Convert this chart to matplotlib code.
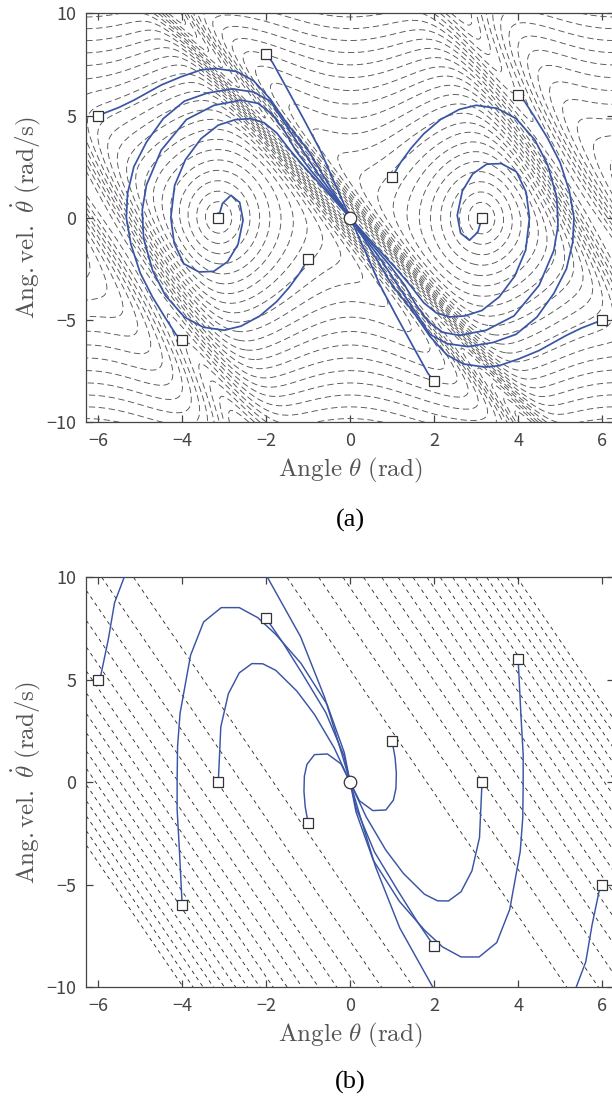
import numpy as np
import matplotlib
matplotlib.use("Agg")
import matplotlib.pyplot as plt

plt.rcParams['mathtext.fontset'] = 'cm'

# ---- initial states (squares) ----
start_th = [-6, -2, 4, 1, 3.1416, -3.1416, -1, -4, 2, 6]
start_om = [5, 8, 6, 2, 0, 0, -2, -6, -8, -5]

# ---- (a) trajectories ----
a_T1 = [(-2, 8), (-1.85, 7.6), (-1.5, 6.3), (-1.1, 4.8), (-0.7, 3.25), (-0.35, 1.6), (0, 0)]
a_T2 = [(2, -8), (1.85, -7.6), (1.5, -6.3), (1.1, -4.8), (0.7, -3.25), (0.35, -1.6), (0, 0)]
a_T3 = [(-3.14, 0), (-3.04, 0.7), (-2.84, 1.1), (-2.63, 0.75), (-2.55, -0.12), (-2.67, -1.3),
        (-2.92, -2.15), (-3.25, -2.62), (-3.6, -2.65), (-3.96, -2.25), (-4.19, -1.25), (-4.27, 0),
        (-4.18, 1.58), (-3.92, 2.85), (-3.55, 3.87), (-3.14, 4.53), (-2.73, 4.8), (-2.37, 4.85),
        (-2.05, 4.65), (-1.75, 4.15), (-1.45, 3.35), (-1.1, 2.5), (-0.7, 1.6), (-0.35, 0.8), (0, 0)]
a_T4 = [(3.14, 0), (3.04, -0.7), (2.84, -1.1), (2.63, -0.75), (2.55, 0.12), (2.67, 1.3),
        (2.92, 2.15), (3.25, 2.62), (3.6, 2.65), (3.96, 2.25), (4.19, 1.25), (4.27, 0),
        (4.18, -1.58), (3.92, -2.85), (3.55, -3.87), (3.14, -4.53), (2.73, -4.8), (2.37, -4.85),
        (2.05, -4.65), (1.75, -4.15), (1.45, -3.35), (1.1, -2.5), (0.7, -1.6), (0.35, -0.8), (0, 0)]
a_T5 = [(1, 2), (1.2, 2.7), (1.45, 3.4), (1.75, 4.1), (2.15, 4.8), (2.6, 5.3), (3.0, 5.5),
        (3.5, 5.35), (3.95, 4.85), (4.4, 3.8), (4.7, 2.6), (4.92, 1.0), (4.95, -0.4), (4.85, -1.6),
        (4.5, -3.3), (3.9, -4.8), (3.24, -5.5), (2.6, -5.75), (2.2, -5.6), (1.85, -5.05),
        (1.55, -4.2), (1.3, -3.3), (0.95, -2.35), (0.6, -1.5), (0.3, -0.75), (0, 0)]
a_T8 = [(-1, -2), (-1.2, -2.7), (-1.45, -3.4), (-1.75, -4.1), (-2.15, -4.8), (-2.6, -5.3), (-3.0, -5.5),
        (-3.5, -5.35), (-3.95, -4.85), (-4.4, -3.8), (-4.7, -2.6), (-4.92, -1.0), (-4.95, 0.4), (-4.85, 1.6),
        (-4.5, 3.3), (-3.9, 4.8), (-3.24, 5.5), (-2.6, 5.75), (-2.2, 5.6), (-1.85, 5.05),
        (-1.55, 4.2), (-1.3, 3.3), (-0.95, 2.35), (-0.6, 1.5), (-0.3, 0.75), (0, 0)]
a_T6 = [(4, 6), (4.15, 5.7), (4.4, 4.9), (4.7, 3.9), (5.0, 2.7), (5.22, 1.3), (5.33, 0), (5.3, -1.2),
        (5.15, -2.5), (4.85, -3.7), (4.45, -4.85), (3.95, -5.7), (3.4, -6.1), (2.8, -6.3), (2.3, -6.15),
        (1.9, -5.7), (1.6, -4.75), (1.15, -3.35), (0.8, -2.25), (0.5, -1.4), (0.25, -0.7), (0, 0)]
a_T7 = [(-4, -6), (-4.15, -5.7), (-4.4, -4.9), (-4.7, -3.9), (-5.0, -2.7), (-5.22, -1.3), (-5.33, 0), (-5.3, 1.2),
        (-5.15, 2.5), (-4.85, 3.7), (-4.45, 4.85), (-3.95, 5.7), (-3.4, 6.1), (-2.8, 6.3), (-2.3, 6.15),
        (-1.9, 5.7), (-1.6, 4.75), (-1.15, 3.35), (-0.8, 2.25), (-0.5, 1.4), (-0.25, 0.7), (0, 0)]
a_T9 = [(-6, 5), (-5.85, 5.12), (-5.5, 5.4), (-5.14, 5.76), (-4.5, 6.49), (-4.03, 6.89), (-3.55, 7.23),
        (-3.2, 7.3), (-2.7, 7.15), (-2.3, 6.7), (-1.9, 5.8), (-1.5, 4.6), (-1.0, 3.3), (-0.65, 2.1),
        (-0.35, 1.1), (0, 0)]
a_T10 = [(6, -5), (5.85, -5.12), (5.5, -5.4), (5.14, -5.76), (4.5, -6.49), (4.03, -6.89), (3.55, -7.23),
         (3.2, -7.3), (2.7, -7.15), (2.3, -6.7), (1.9, -5.8), (1.5, -4.6), (1.0, -3.3), (0.65, -2.1),
         (0.35, -1.1), (0, 0)]
traj_a = [a_T1, a_T2, a_T3, a_T4, a_T5, a_T6, a_T7, a_T8, a_T9, a_T10]

# ---- (b) trajectories ----
b_T1 = [(-5.96, 5.0), (-5.76, 6.96), (-5.61, 8.76), (-5.37, 10.06), (-5.0, 11.2), (-4.0, 12.0),
        (-3.0, 11.8), (-2.3, 10.9), (-1.97, 10.0), (-1.18, 7.1), (-0.6, 4.1), (-0.2, 1.4), (0, 0)]
b_T2 = [(5.96, -5.0), (5.76, -6.96), (5.61, -8.76), (5.37, -10.06), (5.0, -11.2), (4.0, -12.0),
        (3.0, -11.8), (2.3, -10.9), (1.97, -10.0), (1.18, -7.1), (0.6, -4.1), (0.2, -1.4), (0, 0)]
b_T3 = [(-4, -6), (-4.07, -3.15), (-4.12, -1.35), (-4.12, 0.1), (-4.11, 1.74), (-4.05, 3.37),
        (-3.8, 6.2), (-3.49, 7.82), (-3.07, 8.52), (-2.64, 8.52), (-2.2, 8.03), (-1.77, 7.21),
        (-1.17, 5.8), (-0.55, 3.8), (-0.14, 1.45), (0, 0)]
b_T4 = [(4, 6), (4.07, 3.15), (4.12, 1.35), (4.12, -0.1), (4.11, -1.74), (4.05, -3.37),
        (3.8, -6.2), (3.49, -7.82), (3.07, -8.52), (2.64, -8.52), (2.2, -8.03), (1.77, -7.21),
        (1.17, -5.8), (0.55, -3.8), (0.14, -1.45), (0, 0)]
b_T5 = [(-2, 8), (-1.6, 6.8), (-1.14, 5.3), (-0.58, 3.4), (-0.15, 1.3), (0, 0)]
b_T6 = [(2, -8), (1.6, -6.8), (1.14, -5.3), (0.58, -3.4), (0.15, -1.3), (0, 0)]
b_T7 = [(-3.14, 0), (-3.08, 2.7), (-2.9, 4.32), (-2.64, 5.34), (-2.34, 5.79), (-2.08, 5.78),
        (-1.77, 5.46), (-1.27, 4.45), (-0.85, 3.31), (-0.38, 1.68), (0, 0)]
b_T8 = [(3.14, 0), (3.08, -2.7), (2.9, -4.32), (2.64, -5.34), (2.34, -5.79), (2.08, -5.78),
        (1.77, -5.46), (1.27, -4.45), (0.85, -3.31), (0.38, -1.68), (0, 0)]
b_T9 = [(1, 2), (1.07, 1.2), (1.1, 0.44), (1.09, -0.3), (1.03, -0.87), (0.85, -1.35),
        (0.54, -1.38), (0.22, -0.9), (0, 0)]
b_T10 = [(-1, -2), (-1.07, -1.2), (-1.1, -0.44), (-1.09, 0.3), (-1.03, 0.87), (-0.85, 1.35),
         (-0.54, 1.38), (-0.22, 0.9), (0, 0)]
traj_b = [b_T1, b_T2, b_T3, b_T4, b_T5, b_T6, b_T7, b_T8, b_T9, b_T10]

# (b) dashed lines: omega + 3*theta = c
b_slope = -3.0
b_intercepts = [5.48, 7.75, 9.49, 10.95, 12.25, 13.42, 14.49, 15.49,
                16.43, 17.32, 18.17, 18.97, 19.75, 20.49, 21.21, 21.91]

# (a) background function (shape guessed from the picture)
A_POT = 6.0
K_BAND = 2.4
B_BAND = 45.0
W_BAND = 0.9
K_SIDE = 3.2
S_SIDE = 18.5
B_SIDE = 40.0
W_SIDE = 1.8
a_levels = np.arange(0.2, 12.0, 0.36)

xticks = [-6, -4, -2, 0, 2, 4, 6]
yticks = [-10, -5, 0, 5, 10]

BLUE = '#3a55a5'
GREY = '#444444'
tick_font = 'Noto Sans CJK JP'

fig = plt.figure(figsize=(6.12, 11.04), dpi=100)
ax_a = fig.add_axes([0.1410, 0.6175, 0.8623, 0.3705])
ax_b = fig.add_axes([0.1410, 0.1057, 0.8623, 0.3714])

# --- (a) contours ---
th = np.linspace(-2 * np.pi, 2 * np.pi, 600)
om = np.linspace(-10, 10, 600)
TH, OM = np.meshgrid(th, om)
s = OM + K_BAND * TH
s2 = OM + K_SIDE * TH
F = 0.5 * OM**2 + A_POT * (1 + np.cos(TH))
F = F + B_BAND / np.cosh(s / W_BAND)**2
F = F + B_SIDE / np.cosh((s2 - S_SIDE) / W_SIDE)**2 + B_SIDE / np.cosh((s2 + S_SIDE) / W_SIDE)**2
ax_a.contour(TH, OM, np.sqrt(F), levels=a_levels, colors='#555555',
             linewidths=0.65, linestyles=[(0, (7, 4))])

# --- (b) lines ---
for c in b_intercepts:
    for cc in (c, -c):
        ax_b.axline((0, cc), slope=b_slope, color='#222222', lw=0.6, ls=(0, (4.5, 4.5)))

for ax, trajs, lw in ((ax_a, traj_a, 1.25), (ax_b, traj_b, 1.05)):
    for t in trajs:
        t = np.array(t)
        ax.plot(t[:, 0], t[:, 1], color=BLUE, lw=lw, zorder=3)
    ax.plot(start_th, start_om, 's', ms=6.5, mfc='white', mec='#333333', mew=0.9, zorder=4)
    ax.plot(0, 0, 'o', ms=9, mfc='white', mec='#333333', mew=0.9, zorder=5)

    ax.set_xlim(-2 * np.pi, 2 * np.pi)
    ax.set_ylim(-10, 10)
    ax.set_xticks(xticks)
    ax.set_yticks(yticks)
    ax.tick_params(direction='in', length=5, width=0.9, top=True, right=True,
                   colors=GREY, labelsize=13, pad=7)
    for lab in ax.get_xticklabels() + ax.get_yticklabels():
        lab.set_fontfamily(tick_font)
    for sp in ax.spines.values():
        sp.set_color(GREY)
        sp.set_linewidth(0.9)
    ax.text(0.5, -0.1166, r'$\mathrm{Angle}\ \theta\ \mathrm{(rad)}$', transform=ax.transAxes,
            ha='center', va='center', fontsize=18, color='#555555')
    ax.text(-0.1124, 0.5, r'$\mathrm{Ang.vel.}\ \dot{\theta}\ \mathrm{(rad/s)}$', transform=ax.transAxes,
            ha='center', va='center', rotation=90, fontsize=18, color='#555555')

fig.text(350 / 612, 1 - 520 / 1104, '(a)', ha='center', va='center',
         fontsize=19, family='Liberation Serif')
fig.text(350 / 612, 1 - 1082 / 1104, '(b)', ha='center', va='center',
         fontsize=19, family='Liberation Serif')

fig.savefig('out.png', dpi=100)
